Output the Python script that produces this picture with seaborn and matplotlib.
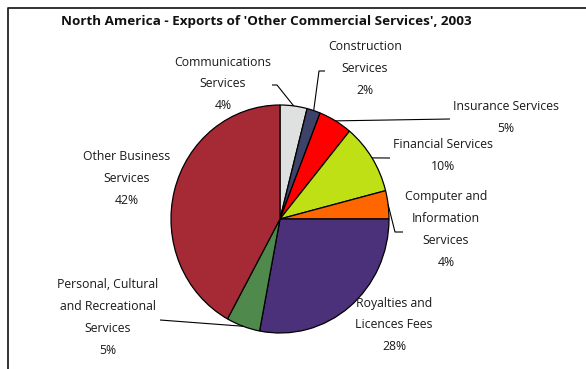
import numpy as np
import matplotlib
matplotlib.use("Agg")
import matplotlib.pyplot as plt
import seaborn as sns

# Shares of North American exports of "other commercial services", 2003 (%)
categories = [
    "Communications\nServices",
    "Construction\nServices",
    "Insurance Services",
    "Financial Services",
    "Computer and\nInformation\nServices",
    "Royalties and\nLicences Fees",
    "Personal, Cultural\nand Recreational\nServices",
    "Other Business\nServices",
]
shares = [4, 2, 5, 10, 4, 28, 5, 42]
colors = ["#dfe1e1", "#3d4368", "#ff0000", "#bfe014",
          "#ff6600", "#4b3179", "#4f8a4c", "#a62a36"]

sns.set_theme(style="white")
plt.rcParams["font.family"] = ["Open Sans", "DejaVu Sans"]

W, H = 586, 369
fig = plt.figure(figsize=(W / 100, H / 100), dpi=100)
ax = fig.add_axes([0, 0, 1, 1])

# pie centre and radii in pixels (slightly taller than wide)
cx, cy, rx, ry = 280.0, 219.0, 109.0, 114.0


def to_data(px, py):
    return (px - cx) / rx, (cy - py) / ry


wedges, _ = ax.pie(
    shares, colors=colors, startangle=90, counterclock=False,
    wedgeprops=dict(edgecolor="black", linewidth=0.9),
)
ax.set_aspect("auto")
ax.set_xlim(-cx / rx, (W - cx) / rx)
ax.set_ylim((cy - H) / ry, cy / ry)
ax.axis("off")

# label layout: first-line centre (px), leader path from label to wedge (px)
label_pos = [(223, 62), (365, 47), (506, 107), (443, 145),
             (446, 197), (394, 303), (108, 285), (127, 157)]
leader_paths = [
    [(272, 85), (277, 85)],
    [(325, 71), (319, 71)],
    [(450, 119)],
    [(390, 158)],
    [(403, 232), (395, 232)],
    None,
    [(160, 320)],
    None,
]

step = 21.7
for w, cat, val, (lx, ly), path in zip(wedges, categories, shares,
                                        label_pos, leader_paths):
    lines = cat.split("\n") + [f"{val}%"]
    for i, line in enumerate(lines):
        x, y = to_data(lx, ly + i * step)
        ax.text(x, y, line, ha="center", va="center", fontsize=8.8,
                color="#1a1a1a")
    if path is not None:
        mid = np.deg2rad((w.theta1 + w.theta2) / 2)
        anchor = (np.cos(mid), np.sin(mid))
        pts = [to_data(px, py) for px, py in path] + [anchor]
        xs, ys = zip(*pts)
        ax.plot(xs, ys, color="black", linewidth=0.8, solid_capstyle="butt")

# title
tx, ty = to_data(266, 22)
ax.text(tx, ty, "North America - Exports of 'Other Commercial Services', 2003",
        ha="center", va="center", fontsize=9.7, fontweight="bold",
        color="#111111")

# chart frame (top and left edges)
fx0, fy0 = to_data(8, 8)
fx1, _ = to_data(W + 5, 8)
_, fy1 = to_data(8, H + 5)
ax.plot([fx1, fx0, fx0], [fy0, fy0, fy1], color="#222222", linewidth=1.3,
        clip_on=False)

fig.savefig("out.png", dpi=100)
